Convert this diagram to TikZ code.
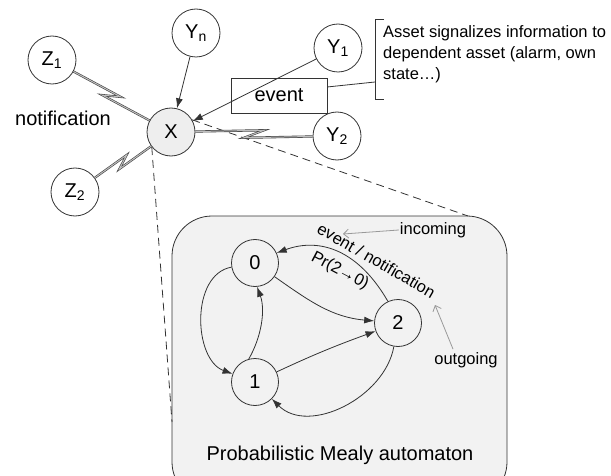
\documentclass[tikz,border=0pt]{standalone}
\usepackage{fontspec}
\setmainfont{Liberation Sans}
\usetikzlibrary{arrows.meta,calc}
\definecolor{boxfill}{HTML}{F2F2F2}
\definecolor{xfill}{HTML}{EEEEEE}
\definecolor{linec}{HTML}{333333}
\begin{document}
\begin{tikzpicture}[x=1pt,y=1pt,
  big/.style={font=\fontsize{20}{24}\selectfont},
  lab/.style={font=\fontsize{16.5}{21}\selectfont,inner sep=1pt},
  asset/.style={circle,draw=linec,line width=0.8pt,fill=white,minimum size=48pt,inner sep=0pt,big},
  state/.style={circle,draw=linec,line width=0.8pt,fill=boxfill,minimum size=47pt,inner sep=0pt,big},
  arr/.style={line width=0.8pt,draw=linec,-{Latex[length=10pt,width=7pt]}},
  note/.style={draw=gray!80,line width=0.8pt,-{Straight Barb[length=5pt,width=9pt]}},
  bolt/.style={draw=black!75,double=black!25,double distance=1pt,line width=0.6pt,line join=miter},
  dashline/.style={dash pattern=on 8pt off 5pt,line width=0.8pt,draw=linec}
]
\useasboundingbox (0,0) rectangle (611,475);
% dashed zoom lines
\coordinate (dl) at (172,53);
\coordinate (dr) at (468,259);
% automaton box
\draw[line width=0.8pt,draw=linec,fill=boxfill,rounded corners=40pt] (172,-27) rectangle (507,259);
% asset nodes
\node[asset] (z1) at (52,415) {Z\textsubscript{1}};
\node[asset] (yn) at (196,442) {Y\textsubscript{n}};
\node[asset] (y1) at (338,427) {Y\textsubscript{1}};
\node[asset,fill=xfill] (x) at (171,343) {X};
\node[asset] (y2) at (337,339) {Y\textsubscript{2}};
\node[asset] (z2) at (75,283) {Z\textsubscript{2}};
\node[draw=linec,line width=0.8pt,minimum width=96pt,minimum height=35pt,inner sep=0pt,big] (ev) at (279,379.5) {event};
\draw[dashline] (x.218) -- (dl);
\draw[dashline] (x.30) -- (dr);
\node[big] (notif) at (63,357) {notification};
% annotation
\node[lab,anchor=north west,align=left,inner sep=0pt] (note) at (383,450) {Asset signalizes information to\\dependent asset (alarm, own\\state…)};
\coordinate (bk) at (375,393);
\draw[line width=0.8pt,draw=linec] (384,456) -- (375,456) -- (375,376) -- (384,376);
\draw[line width=0.8pt,draw=linec] (ev.10) -- (bk);
% connectors
\draw[arr] (yn) -- (x);
\draw[arr] (y1) -- (x);
\draw[bolt] (z1) -- ($(z1)!0.56!(x)!4pt!90:(x)$) -- ($(z1)!0.44!(x)!4pt!-90:(x)$) -- (x);
\draw[bolt] (y2) -- ($(y2)!0.56!(x)!4pt!90:(x)$) -- ($(y2)!0.44!(x)!4pt!-90:(x)$) -- (x);
\draw[bolt] (z2) -- ($(z2)!0.56!(x)!4pt!90:(x)$) -- ($(z2)!0.44!(x)!4pt!-90:(x)$) -- (x);
% automaton
\node[state] (s0) at (255,212) {0};
\node[state] (s1) at (255,93) {1};
\node[state] (s2) at (398,152) {2};
\draw[arr] (s0) to[out=190,in=160] (s1);
\draw[arr] (s1.105) .. controls +(60:25) and +(-70:25) .. (s0.-85);
\draw[arr] (s0) to[out=-35,in=175] (s2);
\draw[arr] (s1) to[out=25,in=200] (s2);
\draw[arr] (s2.115) .. controls +(120:58) and +(20:47) .. (s0.25);
\draw[arr] (s2) to[out=-100,in=-45] (s1);
\node[lab,rotate=-30] (evl) at (376.5,214.5) {event / notification};
\node[lab,rotate=-28] (prl) at (340,204) {Pr(2→0)};
\node[lab] (inc) at (433,245) {incoming};
\coordinate (inct) at (343,241);
\draw[note] (inc.west) -- (inct);
\node[lab] (outg) at (466,115) {outgoing};
\coordinate (outt) at (435,170);
\draw[note] ([xshift=-13pt,yshift=2pt]outg.north) -- (outt);
\node[big] (title) at (340,20) {Probabilistic Mealy automaton};
\end{tikzpicture}
\end{document}
